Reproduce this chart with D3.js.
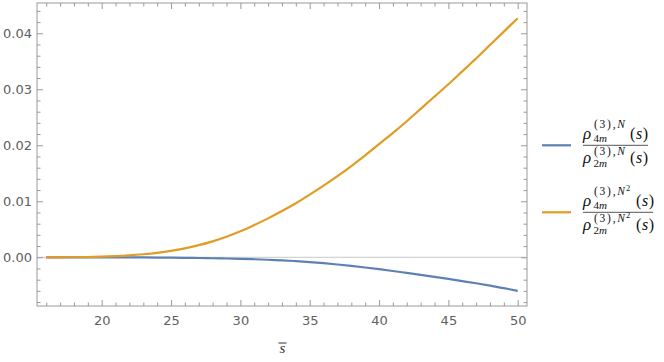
<!DOCTYPE html>
<html>
<head>
<meta charset="utf-8">
<script src="https://cdn.jsdelivr.net/npm/d3@7"></script>
<style>
  html, body { margin: 0; padding: 0; background: #fff; }
  svg { display: block; }
</style>
</head>
<body>
<svg id="chart" width="664" height="362"></svg>
<script>
// ---- data ----
const sValues = [16,17,18,19,20,21,22,23,24,25,26,27,28,29,30,31,32,33,34,35,36,37,38,39,40,41,42,43,44,45,46,47,48,49,50];
const ratioN = [0,0,0,0,-0.000005,-0.00001,-0.00002,-0.00003,-0.00005,-0.00007,-0.0001,-0.00013,-0.00017,-0.00022,-0.00028,-0.00035,-0.00044,-0.00055,-0.00069,-0.00086,-0.00106,-0.00129,-0.00155,-0.00183,-0.00213,-0.00245,-0.00279,-0.00314,-0.0035,-0.00387,-0.00425,-0.00464,-0.00506,-0.00552,-0.0060];
const ratioN2 = [0,0,0.00001,0.00004,0.0001,0.0002,0.00034,0.00054,0.0008,0.00115,0.0016,0.00217,0.00285,0.00367,0.00463,0.00575,0.00695,0.00825,0.00965,0.0112,0.0128,0.0145,0.0163,0.0182,0.0202,0.0222,0.0243,0.0265,0.0287,0.0309,0.0332,0.0355,0.0379,0.0403,0.0427];
const xMajorTicks = [20,25,30,35,40,45,50];
const xMinorTicks = [16,17,18,19,21,22,23,24,26,27,28,29,31,32,33,34,36,37,38,39,41,42,43,44,46,47,48,49];
const yMajorTicks = [0,0.01,0.02,0.03,0.04];
const yTickLabels = ["0.00","0.01","0.02","0.03","0.04"];
const yMinorTicks = [-0.008,-0.006,-0.004,-0.002,0.002,0.004,0.006,0.008,0.012,0.014,0.016,0.018,0.022,0.024,0.026,0.028,0.032,0.034,0.036,0.038,0.042,0.044];
const seriesColors = ["#5E81B5", "#E19C24"];

// ---- layout ----
const L = 37, R = 527, T = 3, B = 306;
const svg = d3.select("#chart");
const x = d3.scaleLinear().domain([15.334, 50.67]).range([L, R]);
const y = d3.scaleLinear().domain([-0.0087, 0.04541]).range([B, T]);

const frameColor = "#9a9a9a";
const labelColor = "#606060";

// zero grid line
svg.append("line")
  .attr("x1", L).attr("x2", R)
  .attr("y1", y(0)).attr("y2", y(0))
  .attr("stroke", "#c9c9c9").attr("stroke-width", 1);

// curves
const data = sValues.map((s, i) => ({s, a: ratioN[i], b: ratioN2[i]}));
const lineA = d3.line().x(d => x(d.s)).y(d => y(d.a)).curve(d3.curveCatmullRom.alpha(0.5));
const lineB = d3.line().x(d => x(d.s)).y(d => y(d.b)).curve(d3.curveCatmullRom.alpha(0.5));
svg.append("path").datum(data).attr("d", lineA)
  .attr("fill", "none").attr("stroke", seriesColors[0]).attr("stroke-width", 2.2);
svg.append("path").datum(data).attr("d", lineB)
  .attr("fill", "none").attr("stroke", seriesColors[1]).attr("stroke-width", 2.2);

// frame
svg.append("rect").attr("x", L).attr("y", T).attr("width", R - L).attr("height", B - T)
  .attr("fill", "none").attr("stroke", frameColor).attr("stroke-width", 1);

// axes via d3 axis generators (inward ticks)
const tickStyle = g => {
  g.select(".domain").remove();
  g.selectAll("line").attr("stroke", frameColor);
  g.selectAll("text").attr("fill", labelColor)
    .style("font-family", "'DejaVu Sans', sans-serif").style("font-size", "13px");
};
// bottom
svg.append("g").attr("transform", `translate(0,${B})`)
  .call(d3.axisBottom(x).tickValues(xMajorTicks).tickFormat(d3.format("d")).tickSizeInner(-6).tickSizeOuter(0).tickPadding(10))
  .call(tickStyle);
svg.append("g").attr("transform", `translate(0,${B})`)
  .call(d3.axisBottom(x).tickValues(xMinorTicks).tickFormat("").tickSizeInner(-3.5).tickSizeOuter(0))
  .call(tickStyle);
// top
svg.append("g").attr("transform", `translate(0,${T})`)
  .call(d3.axisTop(x).tickValues(xMajorTicks).tickFormat("").tickSizeInner(-6).tickSizeOuter(0))
  .call(tickStyle);
svg.append("g").attr("transform", `translate(0,${T})`)
  .call(d3.axisTop(x).tickValues(xMinorTicks).tickFormat("").tickSizeInner(-3.5).tickSizeOuter(0))
  .call(tickStyle);
// left
svg.append("g").attr("transform", `translate(${L},0)`)
  .call(d3.axisLeft(y).tickValues(yMajorTicks).tickFormat((d, i) => yTickLabels[i]).tickSizeInner(-6).tickSizeOuter(0).tickPadding(5))
  .call(tickStyle);
svg.append("g").attr("transform", `translate(${L},0)`)
  .call(d3.axisLeft(y).tickValues(yMinorTicks).tickFormat("").tickSizeInner(-3.5).tickSizeOuter(0))
  .call(tickStyle);
// right
svg.append("g").attr("transform", `translate(${R},0)`)
  .call(d3.axisRight(y).tickValues(yMajorTicks).tickFormat("").tickSizeInner(-6).tickSizeOuter(0))
  .call(tickStyle);
svg.append("g").attr("transform", `translate(${R},0)`)
  .call(d3.axisRight(y).tickValues(yMinorTicks).tickFormat("").tickSizeInner(-3.5).tickSizeOuter(0))
  .call(tickStyle);

// x axis label: s with overbar
const serif = "'Liberation Serif', 'DejaVu Serif', serif";
svg.append("text").attr("x", 282.5).attr("y", 353).attr("text-anchor", "middle")
  .style("font-family", serif).style("font-style", "italic").style("font-size", "15px")
  .attr("fill", "#333").text("s");
svg.append("line").attr("x1", 278.5).attr("x2", 286.5).attr("y1", 343).attr("y2", 343)
  .attr("stroke", "#333").attr("stroke-width", 1);

// legend
const legend = [
  {color: seriesColors[0], bar: 145.3, sq: false, barEnd: 648, parenX: 630},
  {color: seriesColors[1], bar: 212.3, sq: true, barEnd: 653, parenX: 636}
];
const txt = (g, xx, yy, size, parts, tl) => {
  const t = g.append("text").attr("x", xx).attr("y", yy)
    .style("font-family", serif).style("font-size", size + "px").attr("fill", "#111");
  if (tl) t.attr("textLength", tl).attr("lengthAdjust", "spacing");
  parts.forEach(p => t.append("tspan").style("font-style", p[1] ? "italic" : "normal").text(p[0]));
  return t;
};
legend.forEach((d, i) => {
  const g = svg.append("g");
  g.append("line").attr("x1", 542).attr("x2", 571).attr("y1", d.bar).attr("y2", d.bar)
    .attr("stroke", d.color).attr("stroke-width", 2.2);
  g.append("line").attr("x1", 583).attr("x2", d.barEnd).attr("y1", d.bar).attr("y2", d.bar)
    .attr("stroke", "#555").attr("stroke-width", 1);
  [[-6.5, "4m", -17.5, 3], [18, "2m", 10, 4]].forEach(([off, sub, supOff, subOff]) => {
    const base = d.bar + off;
    txt(g, 583, base, 17, [["ρ", true]]);
    const supBase = d.bar + supOff + (i === 1 && off < 0 ? 0.5 : 0);
    txt(g, 594, supBase, 11.5, [["(3),", false], ["N", true]], 31);
    if (d.sq) txt(g, 626, supBase - 4.5, 8.5, [["2", false]]);
    txt(g, 593.5, base + subOff, 11, [[sub[0], false], [sub[1], true]]);
    txt(g, d.parenX, base, 16, [["(", false], ["s", true], [")", false]], 18);
  });
});
</script>
</body>
</html>
